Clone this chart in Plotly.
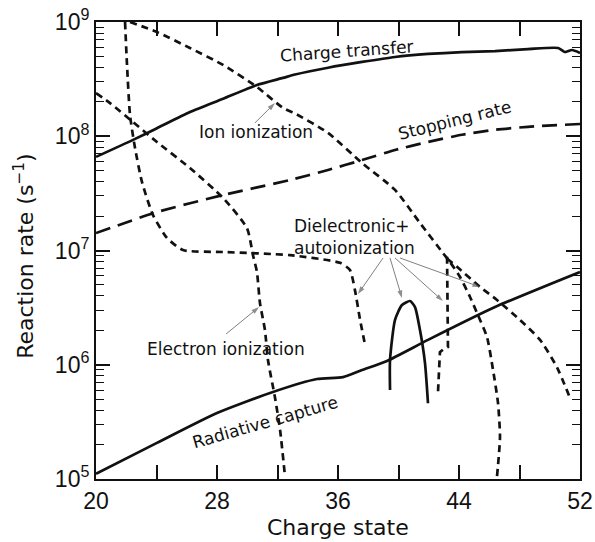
import plotly.graph_objects as go

# ---- curve data: charge state vs reaction rate (s^-1) ----
ct_q = [20, 22.45, 24.0, 26.21, 28.4, 30.64, 32.36, 33.16, 35.34, 37.59, 39.77, 41.95, 44.2, 46.38, 48.56, 50.55, 51.0, 51.47, 52]
ct_r = [6.6e7, 9.3e7, 1.17e8, 1.63e8, 2.13e8, 2.81e8, 3.24e8, 3.47e8, 3.98e8, 4.47e8, 4.94e8, 5.25e8, 5.46e8, 5.57e8, 5.79e8, 5.92e8, 5.46e8, 5.69e8, 5.36e8]

stop_q = [20, 24.03, 28.4, 32.83, 35.34, 37.59, 39.77, 41.95, 44.2, 46.38, 48.56, 52]
stop_r = [1.42e7, 2.17e7, 3.06e7, 4.14e7, 5.07e7, 6.19e7, 7.59e7, 8.91e7, 1.03e8, 1.14e8, 1.21e8, 1.28e8]

ion_q = [22.25, 24.03, 26.21, 28.4, 30.64, 32.36, 33.16, 35.34, 37.59, 39.77, 41.42, 42.94, 43.41, 44.07, 44.73, 45.19, 45.85, 46.25, 46.58, 46.71, 46.51]
ion_r = [1.0e9, 8.17e8, 5.92e8, 4.21e8, 2.70e8, 1.77e8, 1.58e8, 1.07e8, 5.83e7, 3.39e7, 1.74e7, 9.5e6, 7.9e6, 5.86e6, 3.92e6, 2.84e6, 1.75e6, 9.0e5, 4.62e5, 2.33e5, 1.04e5]

elec_q = [20, 20.93, 22.45, 24.03, 26.21, 28.4, 29.98, 30.38, 30.64, 30.84, 31.17, 31.37, 31.83, 32.17, 32.5]
elec_r = [2.39e8, 1.95e8, 1.33e8, 8.9e7, 5.27e7, 2.88e7, 1.57e7, 9.1e6, 6.5e6, 3.47e6, 2.01e6, 1.10e6, 5.2e5, 2.69e5, 1.04e5]

# dielectronic + autoionization branches
dr1_q = [21.92, 22.05, 22.25, 22.58, 23.04, 23.77, 24.69, 25.75, 28.4, 32.83, 36.13, 36.79, 37.12, 37.46, 37.79]
dr1_r = [1.0e9, 4.21e8, 1.53e8, 7.89e7, 3.98e7, 2.04e7, 1.29e7, 1.01e7, 9.7e6, 9.1e6, 7.8e6, 6.75e6, 4.5e6, 2.47e6, 1.49e6]

dr2_q = [39.44, 39.44, 39.77, 40.23, 40.76, 41.09, 41.42, 41.75, 41.95]
dr2_r = [6.0e5, 1.10e6, 2.47e6, 3.33e6, 3.61e6, 3.2e6, 2.01e6, 1.04e6, 4.6e5]

dr3_q = [43.21, 43.24, 43.27, 43.0, 42.74, 42.61]
dr3_r = [8.8e6, 4.0e6, 1.43e6, 1.38e6, 1.29e6, 5.7e5]

dr4_q = [43.2, 43.87, 45.39, 46.51, 48.03, 49.36, 50.48, 51.34]
dr4_r = [8.5e6, 7.2e6, 4.8e6, 3.69e6, 2.47e6, 1.65e6, 9.5e5, 5.1e5]

rad_q = [20, 24.03, 28.0, 31.70, 34.61, 36.33, 37.59, 39.24, 41.95, 46.38, 52]
rad_r = [1.11e5, 2.07e5, 3.78e5, 5.78e5, 7.5e5, 7.8e5, 9.0e5, 1.08e6, 1.65e6, 3.2e6, 6.49e6]

x_labelled = [20, 28, 36, 44, 52]
x_minor = [24, 32, 40, 48]
y_exps = [5, 6, 7, 8, 9]

# leader lines from labels to curves: (tail q, tail rate, tip q, tip rate)
pointers = [
    (30.51, 1.31e8, 31.83, 1.95e8),
    (28.60, 1.86e6, 30.78, 3.2e6),
    (38.98, 8.6e6, 37.32, 4.16e6),
    (39.44, 8.6e6, 40.23, 3.84e6),
    (39.77, 8.6e6, 42.94, 3.61e6),
    (40.10, 8.6e6, 45.39, 4.8e6),
]

SHORT = "7px,5px"
LONG = "15px,8px"
BLACK = "#111111"

fig = go.Figure()


def add_curve(q, r, dash="solid", shape="spline", width=2.7):
    fig.add_trace(go.Scatter(
        x=q, y=r, mode="lines",
        line=dict(color=BLACK, width=width, dash=dash, shape=shape, smoothing=0.6),
        showlegend=False, hoverinfo="skip",
    ))


add_curve(ct_q, ct_r)
add_curve(stop_q, stop_r, dash=LONG)
add_curve(ion_q, ion_r, dash=SHORT)
add_curve(elec_q, elec_r, dash=SHORT)
add_curve(dr1_q, dr1_r, dash=SHORT)
add_curve(dr2_q, dr2_r)
add_curve(dr3_q, dr3_r, dash=SHORT, shape="linear")
add_curve(dr4_q, dr4_r, dash=SHORT)
add_curve(rad_q, rad_r)

# thin grey leader lines with arrowheads at the curve end
for q0, r0, q1, r1 in pointers:
    fig.add_trace(go.Scatter(
        x=[q0, q1], y=[r0, r1], mode="lines+markers",
        line=dict(color="#808080", width=1),
        marker=dict(symbol="arrow", angleref="previous", size=[0, 8],
                    color="#606060", line=dict(width=0)),
        showlegend=False, hoverinfo="skip",
    ))

LABEL_FONT = dict(family="DejaVu Sans", size=17, color="#111111")

texts = [
    # (text, charge state, log10 rate, angle)
    ("Charge transfer", 36.6, 8.745, -4),
    ("Ion ionization", 30.58, 8.037, 0),
    ("Stopping rate", 43.75, 8.14, -14),
    ("Electron ionization", 28.6, 6.138, 0),
    ("Radiative capture", 31.2, 5.50, -16),
]
for t, xq, ly, ang in texts:
    fig.add_annotation(x=xq, y=ly, text=t, showarrow=False, textangle=ang,
                       font=LABEL_FONT, xref="x", yref="y")

fig.add_annotation(x=37.12, y=7.118, text="Dielectronic+<br>autoionization",
                   showarrow=False, align="left", font=LABEL_FONT, xref="x", yref="y")

TITLE_FONT = dict(family="DejaVu Sans", size=22, color=BLACK)
fig.add_annotation(x=0.5, y=-0.107, xref="paper", yref="paper", text="Charge state",
                   showarrow=False, font=TITLE_FONT, yanchor="middle")
fig.add_annotation(x=-0.149, y=0.488, xref="paper", yref="paper",
                   text="Reaction rate (s<sup>\u22121</sup>)", textangle=-90,
                   showarrow=False, font=TITLE_FONT, xanchor="center", yanchor="middle")

minor_vals = [m * 10 ** e for e in range(5, 9) for m in range(2, 10)]

fig.update_layout(
    width=595, height=542,
    margin=dict(l=96, r=15, t=22, b=63, autoexpand=False),
    plot_bgcolor="white", paper_bgcolor="white",
    xaxis=dict(
        range=[20, 52], tickmode="array", tickvals=x_labelled,
        ticktext=[str(v) for v in x_labelled],
        ticks="inside", ticklen=14, tickwidth=1.5, tickcolor=BLACK,
        minor=dict(tickmode="array", tickvals=x_minor, ticks="inside",
                   ticklen=14, tickwidth=1.5, tickcolor=BLACK),
        showline=True, linewidth=2, linecolor=BLACK, mirror="allticks",
        showgrid=False, zeroline=False, automargin=False,
        tickfont=dict(family="Liberation Sans", size=23, color=BLACK),
    ),
    yaxis=dict(
        type="log", range=[5, 9], tickmode="array",
        tickvals=[10 ** e for e in y_exps],
        ticktext=["10<sup>%d</sup>" % e for e in y_exps],
        ticks="inside", ticklen=14, tickwidth=1.5, tickcolor=BLACK,
        minor=dict(tickmode="array", tickvals=minor_vals, ticks="inside",
                   ticklen=8, tickwidth=1.2, tickcolor=BLACK),
        showline=True, linewidth=2, linecolor=BLACK, mirror="allticks",
        showgrid=False, zeroline=False, automargin=False,
        tickfont=dict(family="Liberation Sans", size=23, color=BLACK),
    ),
)

fig.write_html("out.html")
